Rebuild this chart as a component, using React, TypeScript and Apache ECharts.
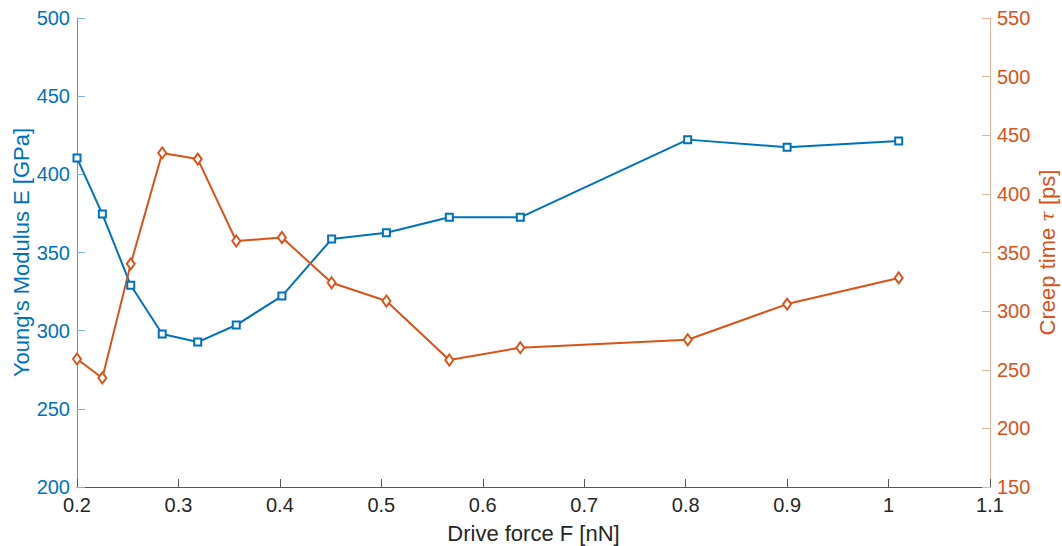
import React, { useEffect, useRef } from "react";
import * as echarts from "echarts";

const forceF = [0.2, 0.225, 0.253, 0.284, 0.319, 0.357, 0.402, 0.451, 0.505, 0.567, 0.637, 0.802, 0.9, 1.01];
const youngsE = [410.4, 374.6, 329.0, 297.9, 292.7, 303.6, 322.1, 358.6, 362.6, 372.5, 372.5, 422.2, 417.3, 421.4];
const creepTau = [259.2, 243.0, 340.3, 434.9, 429.7, 359.8, 362.8, 324.2, 308.6, 258.3, 268.8, 275.6, 306.0, 328.3];

const BLUE = "#0072BD";
const ORANGE = "#D95319";
const DARK = "#262626";
const FONT = "'Liberation Sans', Arial, Helvetica, sans-serif";

export default function App() {
  const ref = useRef<HTMLDivElement>(null);
  useEffect(() => {
    document.body.style.margin = "0";
    if (!ref.current) return;
    const chart = echarts.init(ref.current, undefined, { renderer: "svg" });
    chart.setOption({
      animation: false,
      backgroundColor: "#ffffff",
      textStyle: { fontFamily: FONT },
      grid: { left: 77, right: 72, top: 18, bottom: 59, containLabel: false, outerBoundsMode: "none" },
      xAxis: {
        type: "value",
        min: 0.2,
        max: 1.1,
        interval: 0.1,
        name: "Drive force F [nN]",
        nameLocation: "middle",
        nameGap: 35,
        nameMoveOverlap: false,
        nameTextStyle: { color: DARK, fontSize: 22, fontFamily: FONT },
        axisLine: { show: true, onZero: false, lineStyle: { color: "#555555", width: 1 } },
        axisTick: { show: true, inside: true, length: 8, lineStyle: { color: "#555555" } },
        axisLabel: {
          color: DARK,
          fontSize: 20,
          margin: 8,
          fontFamily: FONT,
          formatter: (v: number) => String(Math.round(v * 10) / 10),
        },
        splitLine: { show: false },
      },
      yAxis: [
        {
          type: "value",
          position: "left",
          min: 200,
          max: 500,
          interval: 50,
          name: "Young's Modulus E [GPa]",
          nameLocation: "middle",
          nameGap: 45,
          nameRotate: 90,
          nameMoveOverlap: false,
          nameTextStyle: { color: BLUE, fontSize: 22, fontFamily: FONT },
          axisLine: { show: true, onZero: false, lineStyle: { color: "#4f9bd0", width: 1 } },
          axisTick: { show: true, inside: true, length: 8, lineStyle: { color: "#7fb5dc" } },
          axisLabel: { color: BLUE, fontSize: 20, margin: 7, fontFamily: FONT },
          splitLine: { show: false },
        },
        {
          type: "value",
          position: "right",
          min: 150,
          max: 550,
          interval: 50,
          name: "Creep time {i|τ} [ps]",
          nameLocation: "middle",
          nameGap: 46,
          nameRotate: 90,
          nameMoveOverlap: false,
          nameTextStyle: {
            color: ORANGE,
            fontSize: 22,
            fontFamily: FONT,
            rich: { i: { fontStyle: "italic", color: ORANGE, fontSize: 19, fontFamily: "'DejaVu Serif', serif" } },
          },
          axisLine: { show: true, onZero: false, lineStyle: { color: "#e2b49b", width: 1 } },
          axisTick: { show: true, inside: true, length: 8, lineStyle: { color: "#e2b49b" } },
          axisLabel: { color: ORANGE, fontSize: 20, margin: 7, fontFamily: FONT },
          splitLine: { show: false },
        },
      ],
      series: [
        {
          name: "E",
          type: "line",
          yAxisIndex: 0,
          data: forceF.map((f, i) => [f, youngsE[i]]),
          symbol: "emptyRect",
          symbolSize: 7,
          lineStyle: { color: BLUE, width: 2 },
          itemStyle: { color: BLUE, borderWidth: 1.3 },
        },
        {
          name: "tau",
          type: "line",
          yAxisIndex: 1,
          data: forceF.map((f, i) => [f, creepTau[i]]),
          symbol: "emptyDiamond",
          symbolSize: [8, 11],
          lineStyle: { color: ORANGE, width: 2 },
          itemStyle: { color: ORANGE, borderWidth: 1.3 },
        },
      ],
    });
    return () => chart.dispose();
  }, []);
  return <div ref={ref} style={{ position: "absolute", left: 0, top: 0, width: 1062, height: 546 }} />;
}
